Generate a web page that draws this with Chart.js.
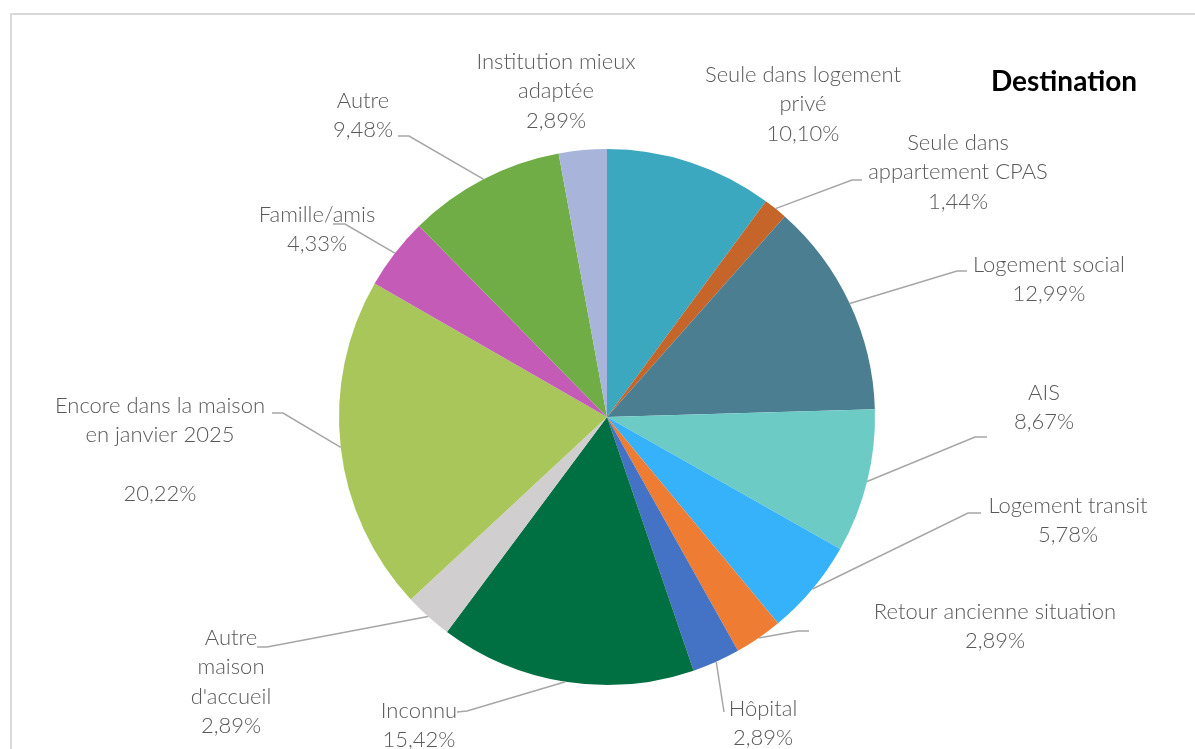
<!DOCTYPE html>
<html>
<head>
<meta charset="utf-8">
<script src="https://cdn.jsdelivr.net/npm/chart.js@4/dist/chart.umd.min.js"></script>
<style>
    body { margin: 0; background: #fff; }
    canvas { display: block; }
</style>
</head>
<body>
<canvas id="pie" width="1195" height="749"></canvas>
<script>
// data
const categories = [
    'Seule dans logement privé',
    'Seule dans appartement CPAS',
    'Logement social',
    'AIS',
    'Logement transit',
    'Retour ancienne situation',
    'Hôpital',
    'Inconnu',
    "Autre maison d'accueil",
    'Encore dans la maison en janvier 2025',
    'Famille/amis',
    'Autre',
    'Institution mieux adaptée',
];
const shares = [10.10, 1.44, 12.99, 8.67, 5.78, 2.89, 2.89, 15.42, 2.89, 20.22, 4.33, 9.48, 2.89];

const sliceColors = [
    '#3ba8bf', '#c5652a', '#4a7e90', '#6dcbc6', '#36b2fb', '#ee7d33', '#4472c4',
    '#007043', '#d0cece', '#a9c65b', '#c45cb7', '#70ad47', '#a8b4da',
];

// label layout: wrapped text lines, centre x, first line y, leader elbow / stub end
const labelLayout = [
    { lines: ['Seule dans logement', 'privé'], x: 803, y: 75 },
    { lines: ['Seule dans', 'appartement CPAS'], x: 958, y: 143, elbow: [852, 180], stub: [862, 180] },
    { lines: ['Logement social'], x: 1049, y: 265, elbow: [957, 271], stub: [967, 271] },
    { lines: ['AIS'], x: 1044, y: 393, elbow: [975, 437], stub: [987, 437] },
    { lines: ['Logement transit'], x: 1068, y: 506, elbow: [968, 513], stub: [981, 513] },
    { lines: ['Retour ancienne situation'], x: 995, y: 612, elbow: [798, 631], stub: [809, 631] },
    { lines: ['Hôpital'], x: 763, y: 709, elbow: [724, 712] },
    { lines: ['Inconnu'], x: 419, y: 711, elbow: [467, 711], stub: [457, 712] },
    { lines: ['Autre', 'maison', "d'accueil"], x: 231, y: 638, elbow: [267, 647], stub: [257, 647] },
    { lines: ['Encore dans la maison', 'en janvier 2025', ''], x: 160, y: 406, elbow: [283, 413], stub: [272, 413] },
    { lines: ['Famille/amis'], x: 317, y: 215, elbow: [345, 224], stub: [333, 224] },
    { lines: ['Autre'], x: 363, y: 101, elbow: [409, 136], stub: [398, 136] },
    { lines: ['Institution mieux', 'adaptée'], x: 556, y: 62 },
];

const LINE_H = 29.3;
const LABEL_FONT = '300 22px Lato, "Open Sans", sans-serif';

function fmtPct(v) {
    return v.toFixed(2).replace('.', ',') + '%';
}

const framePlugin = {
    id: 'frame',
    beforeDraw(chart) {
        const ctx = chart.ctx;
        ctx.save();
        ctx.strokeStyle = '#d9d9d9';
        ctx.lineWidth = 2;
        ctx.strokeRect(11, 14, 1210, 800);
        ctx.restore();
    }
};

const labelPlugin = {
    id: 'outerLabels',
    afterDraw(chart) {
        const ctx = chart.ctx;
        const meta = chart.getDatasetMeta(0);
        ctx.save();
        // leader lines
        ctx.strokeStyle = '#a6a6a6';
        ctx.lineWidth = 1.5;
        meta.data.forEach((arc, i) => {
            const lay = labelLayout[i];
            if (!lay.elbow) return;
            const p = arc.getProps(['x', 'y', 'startAngle', 'endAngle', 'outerRadius'], true);
            const mid = (p.startAngle + p.endAngle) / 2;
            const sx = p.x + Math.cos(mid) * p.outerRadius;
            const sy = p.y + Math.sin(mid) * p.outerRadius;
            ctx.beginPath();
            ctx.moveTo(sx, sy);
            ctx.lineTo(lay.elbow[0], lay.elbow[1]);
            if (lay.stub) ctx.lineTo(lay.stub[0], lay.stub[1]);
            ctx.stroke();
        });
        // texts
        ctx.font = LABEL_FONT;
        ctx.fillStyle = '#595959';
        ctx.textAlign = 'center';
        ctx.textBaseline = 'middle';
        labelLayout.forEach((lay, i) => {
            const lines = lay.lines.concat([fmtPct(shares[i])]);
            lines.forEach((t, k) => {
                ctx.fillText(t, lay.x, lay.y + k * LINE_H);
            });
        });
        // title
        ctx.font = 'bold 28px Lato, "Liberation Sans", sans-serif';
        ctx.fillStyle = '#000';
        ctx.fillText('Destination', 1064, 82);
        ctx.restore();
    }
};

new Chart(document.getElementById('pie'), {
    type: 'pie',
    data: {
        labels: categories,
        datasets: [{
            data: shares,
            backgroundColor: sliceColors,
            borderWidth: 0,
        }]
    },
    options: {
        responsive: false,
        animation: false,
        layout: {
            padding: { top: 149, bottom: 64, left: 339, right: 320 }
        },
        plugins: {
            legend: { display: false },
            tooltip: { enabled: false },
        },
    },
    plugins: [framePlugin, labelPlugin],
});
</script>
</body>
</html>
